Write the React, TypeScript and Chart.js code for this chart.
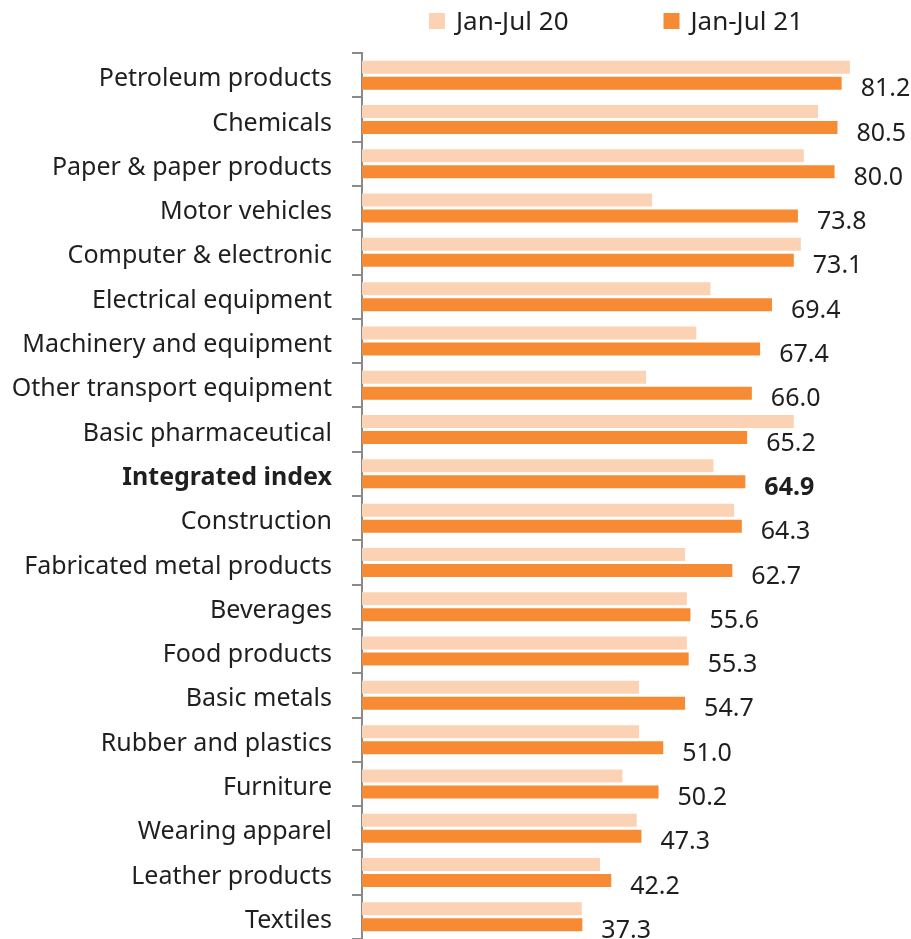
import React, { useEffect, useRef } from "react";
import { Chart, registerables } from "chart.js";

Chart.register(...registerables);

const FONT = '"Noto Sans", sans-serif';

const categories = [
  "Petroleum products",
  "Chemicals",
  "Paper & paper products",
  "Motor vehicles",
  "Computer & electronic",
  "Electrical equipment",
  "Machinery and equipment",
  "Other transport equipment",
  "Basic pharmaceutical",
  "Integrated index",
  "Construction",
  "Fabricated metal products",
  "Beverages",
  "Food products",
  "Basic metals",
  "Rubber and plastics",
  "Furniture",
  "Wearing apparel",
  "Leather products",
  "Textiles",
];

const jan20 = [82.6, 77.2, 74.8, 49.1, 74.3, 59.0, 56.6, 48.1, 73.1, 59.5, 63.0, 54.7, 55.0, 55.0, 46.9, 46.9, 44.1, 46.5, 40.3, 37.2];
const jan21 = [81.2, 80.5, 80.0, 73.8, 73.1, 69.4, 67.4, 66.0, 65.2, 64.9, 64.3, 62.7, 55.6, 55.3, 54.7, 51.0, 50.2, 47.3, 42.2, 37.3];

const seriesLabels = ["Jan-Jul 20", "Jan-Jul 21"];
const seriesColors = ["#FBD3B4", "#F68B33"];
const boldCategory = "Integrated index";

const TEXT = "#1f1f1f";
const AXIS = "#8a8a8a";

const legendPlugin = {
  id: "centeredLegend",
  afterDraw(chart: any) {
    const { ctx, chartArea } = chart;
    const box = 16;
    const gapText = 11;
    const spacing = 95;
    ctx.save();
    ctx.font = `26px ${FONT}`;
    const items = chart.data.datasets.map((d: any) => ({ label: d.label, color: d.backgroundColor }));
    const widths = items.map((it: any) => box + gapText + ctx.measureText(it.label).width);
    const total = widths.reduce((a: number, b: number) => a + b, 0) + spacing * (items.length - 1);
    let x = (chartArea.left + chartArea.right) / 2 - total / 2;
    const yc = 21;
    items.forEach((it: any, i: number) => {
      ctx.fillStyle = it.color;
      ctx.fillRect(x, yc - box / 2, box, box);
      ctx.fillStyle = TEXT;
      ctx.textBaseline = "middle";
      ctx.textAlign = "left";
      ctx.fillText(it.label, x + box + gapText, yc + 2);
      x += widths[i] + spacing;
    });
    ctx.restore();
  },
};

const valueLabelPlugin = {
  id: "valueLabels",
  afterDatasetsDraw(chart: any) {
    const { ctx } = chart;
    const meta = chart.getDatasetMeta(1);
    const data = chart.data.datasets[1].data;
    ctx.save();
    ctx.fillStyle = TEXT;
    ctx.textAlign = "left";
    ctx.textBaseline = "middle";
    meta.data.forEach((bar: any, i: number) => {
      const bold = chart.data.labels[i] === boldCategory;
      ctx.font = `${bold ? "bold " : ""}25px ${FONT}`;
      ctx.fillText(Number(data[i]).toFixed(1), bar.x + 19, bar.y + 6);
    });
    ctx.restore();
  },
};

export default function App() {
  const ref = useRef<HTMLCanvasElement | null>(null);

  useEffect(() => {
    if (!ref.current) return;
    const chart = new Chart(ref.current, {
      type: "bar",
      data: {
        labels: categories,
        datasets: [
          {
            label: seriesLabels[0],
            data: jan20,
            backgroundColor: seriesColors[0],
            categoryPercentage: 0.722,
            barPercentage: 0.8125,
          },
          {
            label: seriesLabels[1],
            data: jan21,
            backgroundColor: seriesColors[1],
            categoryPercentage: 0.722,
            barPercentage: 0.8125,
          },
        ],
      },
      options: {
        indexAxis: "y",
        responsive: false,
        animation: false,
        layout: { padding: { top: 53, right: 41, left: 0, bottom: 0 } },
        plugins: {
          legend: { display: false },
          tooltip: { enabled: false },
        },
        scales: {
          x: { display: false, min: 0, max: 86 },
          y: {
            grid: {
              display: true,
              drawOnChartArea: false,
              drawTicks: true,
              tickLength: 10,
              color: AXIS,
              lineWidth: 2,
              offset: true,
            },
            border: { display: true, color: AXIS, width: 2 },
            ticks: {
              autoSkip: false,
              padding: 20,
              labelOffset: 4,
              color: TEXT,
              font: (c: any) => ({
                family: FONT,
                size: 25,
                weight: categories[c.index] === boldCategory ? "bold" : "normal",
              }),
            },
            afterFit: (s: any) => {
              s.width = 362;
              s.paddingTop = 0;
              s.paddingBottom = 0;
            },
          },
        },
      } as any,
      plugins: [legendPlugin, valueLabelPlugin],
    });
    return () => chart.destroy();
  }, []);

  return (
    <canvas
      ref={ref}
      width={911}
      height={939}
      style={{ position: "absolute", left: 0, top: 0, width: 911, height: 939 }}
    />
  );
}
